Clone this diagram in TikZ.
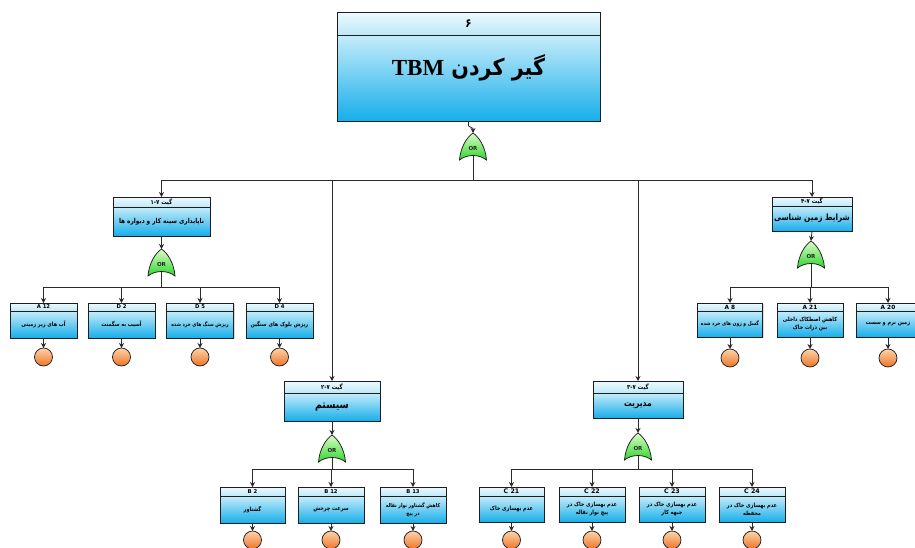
\documentclass[tikz,border=0pt]{standalone}
\usepackage{fontspec}
\usetikzlibrary{arrows.meta,shadows}
\TeXXeTstate=1
\newfontfamily\fa[Script=Arabic, FakeStretch=0.85]{DejaVu Sans}
\newfontfamily\fatitle[Script=Arabic, FakeStretch=0.9]{DejaVu Sans}
\newfontfamily\lat{DejaVu Sans}
\newfontfamily\tbm{Liberation Serif}

\definecolor{edge}{HTML}{1E1E1E}
\definecolor{wire}{HTML}{2A2A2A}
\definecolor{hdrA}{HTML}{EEFAFE}
\definecolor{hdrB}{HTML}{BDE8F8}
\definecolor{bodyA}{HTML}{C6ECFA}
\definecolor{bodyB}{HTML}{16AEEA}
\definecolor{gateA}{HTML}{DDFCC6}
\definecolor{gateB}{HTML}{2ED62E}
\definecolor{ballA}{HTML}{FDD3AA}
\definecolor{ballB}{HTML}{EE7426}

\newcommand\rtl[1]{\beginR #1\endR}
% one event: [body style], name, x, top y, width, header height, body height, header text, body text
\newcommand\evt[9][]{%
  \node[hdr, minimum width=#5, minimum height=#6] (#2-h) at (#3,#4) {#8};
  \node[bdy, #1, minimum width=#5, minimum height=#7] (#2) at (#2-h.south) {#9};
}

\tikzset{
  pics/orgate/.style={code={
    \path[draw=edge, line width=0.75pt, top color=gateA, bottom color=gateB]
      (0,0) .. controls (6,4) and (12.5,14) .. (13.5,27)
      .. controls (6,21) and (-6,21) .. (-13.5,27)
      .. controls (-12.5,14) and (-6,4) .. (0,0) -- cycle;
    \node[font=\lat\bfseries\fontsize{5.5}{6}\selectfont, text=black!85] (-or) at (0,15.5) {OR};
    \coordinate (-top) at (0,0);
    \coordinate (-bot) at (0,22.5);
  }}
}

\begin{document}
\begin{tikzpicture}[x=1pt,y=-1pt,
  every node/.style={inner sep=0pt, outer sep=0pt},
  boxline/.style={draw=edge, line width=0.75pt},
  hdr/.style={boxline, top color=hdrA, bottom color=hdrB, anchor=north,
    font=\fa\bfseries\fontsize{6.3}{7}\selectfont,
    drop shadow={shadow xshift=1.3pt, shadow yshift=-1.3pt, opacity=0.3}},
  bdy/.style={boxline, top color=bodyA, bottom color=bodyB, anchor=north, align=center,
    font=\fa\bfseries\fontsize{5.8}{8}\selectfont,
    drop shadow={shadow xshift=1.3pt, shadow yshift=-1.3pt, opacity=0.3}},
  small/.style={font=\fa\bfseries\fontsize{5.3}{8}\selectfont},
  basic/.style={circle, draw=edge, line width=0.75pt, top color=ballA, bottom color=ballB, minimum size=18pt},
  wireline/.style={draw=wire, line width=0.8pt},
  arr/.style={wireline, -{Stealth[length=5pt,width=5pt]}},
]
\useasboundingbox (0,0) rectangle (915,547);
\clip (0,0) rectangle (915,547);

% ---- top event ----
\node[hdr, minimum width=263, minimum height=23, font=\fa\bfseries\fontsize{12}{14}\selectfont]
  (top-h) at (468.5,12) {۶};
\node[bdy, minimum width=263, minimum height=86] (top) at (top-h.south) {};
\node[font=\fatitle\bfseries\fontsize{23}{28}\selectfont] (top-t) at (468.5,68)
  {\beginR گیر کردن \beginL{\tbm\bfseries TBM}\endL\endR};

% ---- intermediate events ----
\evt[font=\fa\bfseries\fontsize{6.8}{8}\selectfont]{e1}{161.5}{197}{97}{10}{29}
  {\rtl{گیت \beginL۱-۷\endL}}{\rtl{ناپایداری سینه کار و دیواره ها}}
\evt[font=\fa\bfseries\fontsize{8.6}{11}\selectfont]{e2}{812}{197}{80}{9}{25}
  {\rtl{گیت \beginL۴-۷\endL}}{\rtl{شرایط زمین شناسی}}
\evt[font=\fa\bfseries\fontsize{11}{13}\selectfont]{e3}{332}{381}{96}{12}{28}
  {\rtl{گیت \beginL۲-۷\endL}}{\rtl{سیستم}}
\evt[font=\fa\bfseries\fontsize{9}{11}\selectfont]{e4}{638}{381}{90}{12}{25}
  {\rtl{گیت \beginL۳-۷\endL}}{\rtl{مدیریت}}

% ---- gates ----
\pic (g0) at (473,133) {orgate};
\pic (g1) at (161.5,249) {orgate};
\pic (g2) at (811,241) {orgate};
\pic (g3) at (332,435) {orgate};
\pic (g4) at (638,433) {orgate};

% ---- basic events ----
\evt{l1}{43.5}{303}{67}{8}{27}{\lat\bfseries\fontsize{5.3}{6}\selectfont A 12}
  {\rtl{آب های زیر زمینی}}
\evt{l2}{121.5}{303}{67}{8}{27}{\lat\bfseries\fontsize{5.3}{6}\selectfont D 2}
  {\rtl{آسیب به سگمنت}}
\evt[small]{l3}{200}{303}{67}{8}{27}{\lat\bfseries\fontsize{5.3}{6}\selectfont D 5}
  {\rtl{ریزش سنگ های خرد شده}}
\evt{l4}{279.5}{303}{67}{8}{27}{\lat\bfseries\fontsize{5.3}{6}\selectfont D 4}
  {\rtl{ریزش بلوک های سنگین}}

\evt[small]{r1}{730}{303}{65}{8}{26}{\lat\bfseries\fontsize{5.8}{6}\selectfont A 8}
  {\rtl{گسل و زون های خرد شده}}
\evt{r2}{810}{303}{66}{8}{26}{\lat\bfseries\fontsize{5.8}{6}\selectfont A 21}
  {\rtl{کاهش اصطکاک داخلی}\\\rtl{بین ذرات خاک}}
\evt{r3}{888}{303}{64}{8}{26}{\lat\bfseries\fontsize{5.8}{6}\selectfont A 20}
  {\rtl{زمین نرم و سست}}

\evt{s1}{252.5}{487}{65}{9}{27}{\lat\bfseries\fontsize{5.3}{6}\selectfont B 2}
  {\rtl{گشتاور}}
\evt{s2}{331}{487}{66}{9}{27}{\lat\bfseries\fontsize{5.3}{6}\selectfont B 12}
  {\rtl{سرعت چرخش}}
\evt[small]{s3}{413}{487}{66}{9}{27}{\lat\bfseries\fontsize{5.3}{6}\selectfont B 13}
  {\rtl{کاهش گشتاور نوار نقاله}\\\rtl{در پیچ}}

\evt{m1}{511.5}{487}{65}{9}{26}{\lat\bfseries\fontsize{6.3}{7}\selectfont C 21}
  {\rtl{عدم بهسازی خاک}}
\evt{m2}{592}{487}{66}{9}{26}{\lat\bfseries\fontsize{6.3}{7}\selectfont C 22}
  {\rtl{عدم بهسازی خاک در}\\\rtl{پیچ نوار نقاله}}
\evt{m3}{672}{487}{66}{9}{26}{\lat\bfseries\fontsize{6.3}{7}\selectfont C 23}
  {\rtl{عدم بهسازی خاک در}\\\rtl{جبهه کار}}
\evt{m4}{752}{487}{66}{9}{26}{\lat\bfseries\fontsize{6.3}{7}\selectfont C 24}
  {\rtl{عدم بهسازی خاک در}\\\rtl{محفظه}}

% ---- basic-event circles ----
\foreach \n/\x in {l1/43.5, l2/121.5, l3/200, l4/279.5}
  \node[basic] (\n-c) at (\x,357) {};
\foreach \n/\x in {r1/730, r2/810, r3/888}
  \node[basic] (\n-c) at (\x,358) {};
\foreach \n/\x in {s1/252.5, s2/331, s3/413, m1/511.5, m2/592, m3/672, m4/752}
  \node[basic] (\n-c) at (\x,540) {};

% ---- bus junctions ----
\coordinate (bus0) at (473,180);
\coordinate (bus1) at (161.5,287);
\coordinate (bus2) at (811,287);
\coordinate (bus3) at (332,469);
\coordinate (bus4) at (638,469);

% ---- connectors ----
\draw[arr] (top.south) -- ++(0,5) -- ++(4.5,2.5) -- (g0-top);
\draw[wireline] (g0-bot) -- (bus0);
\foreach \t in {e1,e2,e3,e4} \draw[arr] (bus0) -| (\t-h.north);

\draw[arr] (e1.south) -- (g1-top);
\draw[arr] (e2.south) -- (g2-top);
\draw[arr] (e3.south) -- (g3-top);
\draw[arr] (e4.south) -- (g4-top);

\draw[wireline] (g1-bot) -- (bus1);
\draw[wireline] (g2-bot) -- (bus2);
\draw[wireline] (g3-bot) -- (bus3);
\draw[wireline] (g4-bot) -- (bus4);

\foreach \t in {l1,l2,l3,l4} \draw[arr] (bus1) -| (\t-h.north);
\foreach \t in {r1,r2,r3} \draw[arr] (bus2) -| (\t-h.north);
\foreach \t in {s1,s2,s3} \draw[arr] (bus3) -| (\t-h.north);
\foreach \t in {m1,m2,m3,m4} \draw[arr] (bus4) -| (\t-h.north);

\foreach \t in {l1,l2,l3,l4,r1,r2,r3,s1,s2,s3,m1,m2,m3,m4}
  \draw[arr] (\t.south) -- (\t-c.north);
\end{tikzpicture}
\end{document}
